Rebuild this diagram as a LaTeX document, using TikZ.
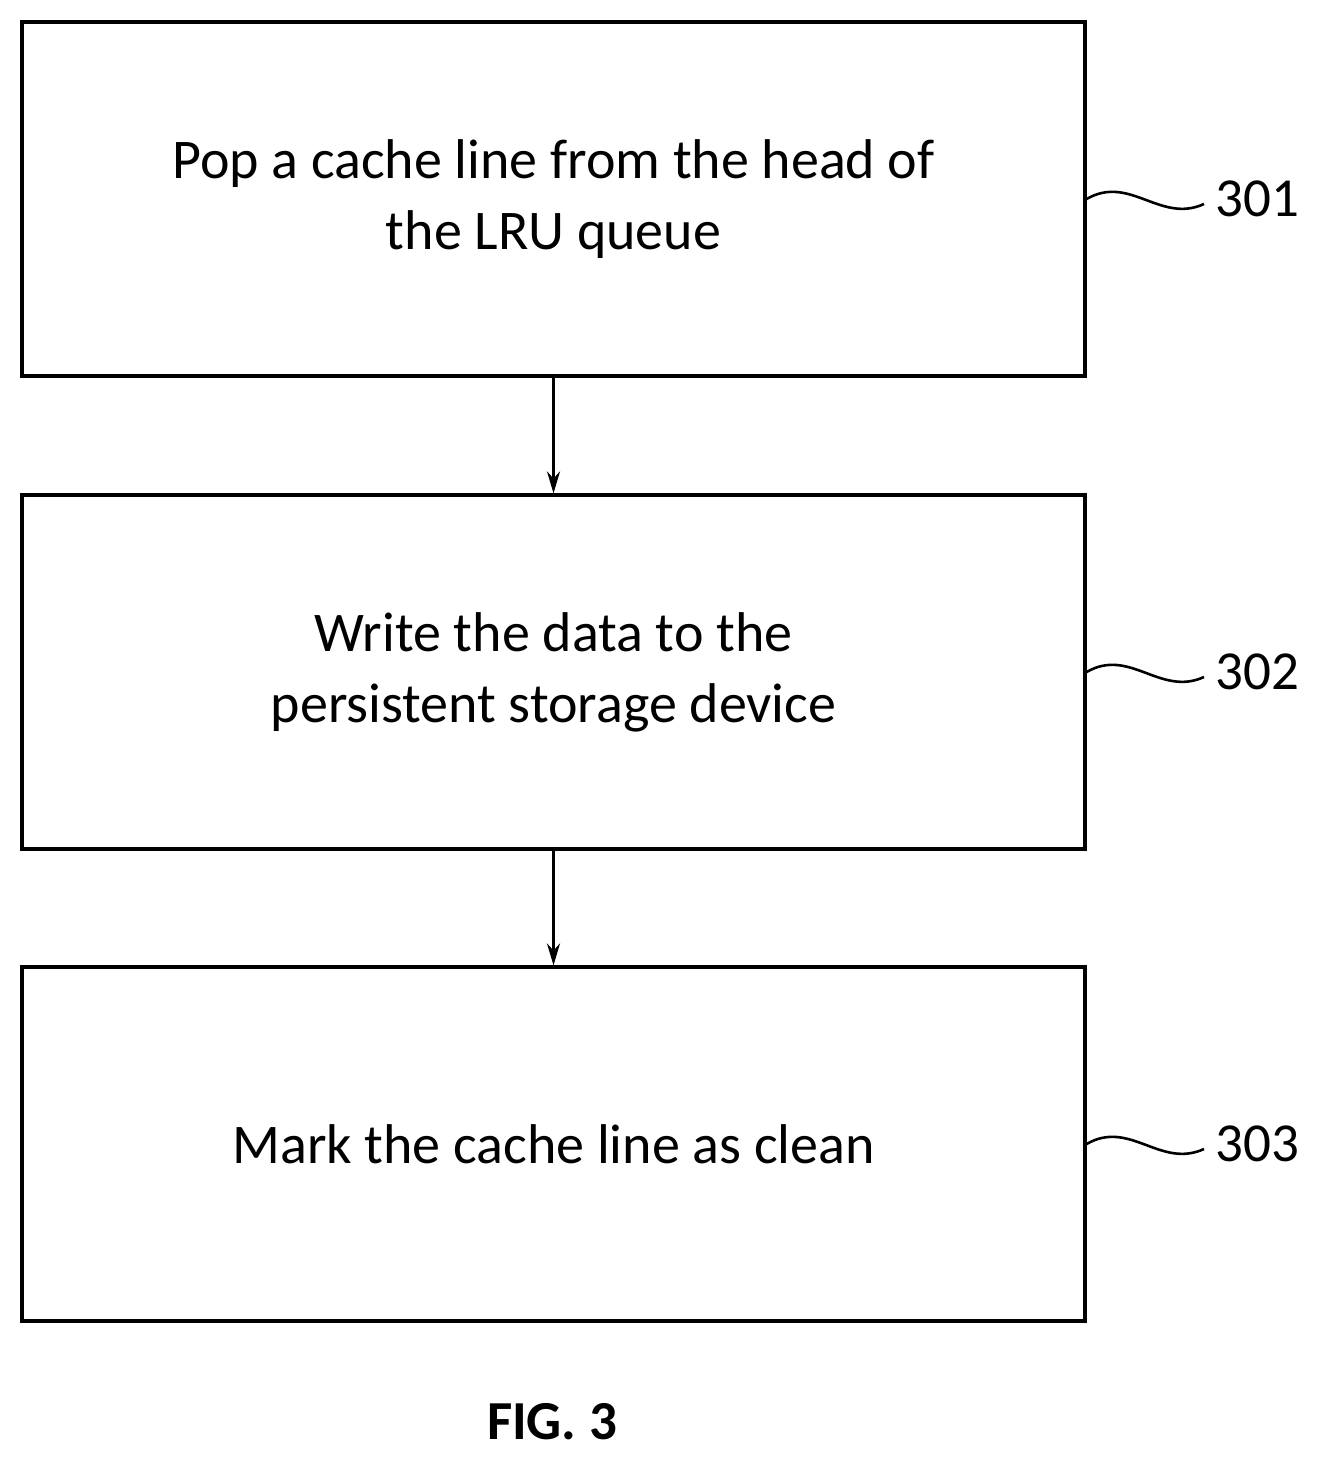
\documentclass[tikz,border=0pt]{standalone}
\usepackage{fontspec}
\setmainfont{Carlito}
\usetikzlibrary{arrows.meta}
\begin{document}
\begin{tikzpicture}[x=1pt,y=-1pt,
  box/.style={draw,line width=3.2pt,minimum width=1063pt,minimum height=354pt,align=center,font=\fontsize{56}{71}\selectfont,inner sep=0pt},
  arr/.style={line width=2.6pt,-{Stealth[length=22pt,width=13pt]}},
  sq/.style={line width=2.6pt},
  lab/.style={font=\fontsize{55}{60}\selectfont,anchor=west}]
\useasboundingbox (0,0) rectangle (1317,1461);
\node[box] (b1) at (553.5,199) {Pop a cache line from the head of\\the LRU queue};
\node[box] (b2) at (553.5,672) {Write the data to the\\persistent storage device};
\node[box] (b3) at (553.5,1144) {Mark the cache line as clean};
\draw[arr] (b1.south) -- (b2.north);
\draw[arr] (b2.south) -- (b3.north);
\foreach \b/\n/\y in {b1/301/199, b2/302/672, b3/303/1144}{
  \coordinate (s\n) at (1204,\y+5);
  \node[lab] (l\n) at (1212,\y) {\n};
  \draw[sq] (\b.east|-0,\y) .. controls (1130,\y-25) and (1160,\y+25) .. (s\n);
}
\node[font=\bfseries\fontsize{55}{60}\selectfont] (fig) at (552,1422) {FIG. 3};
\end{tikzpicture}
\end{document}
